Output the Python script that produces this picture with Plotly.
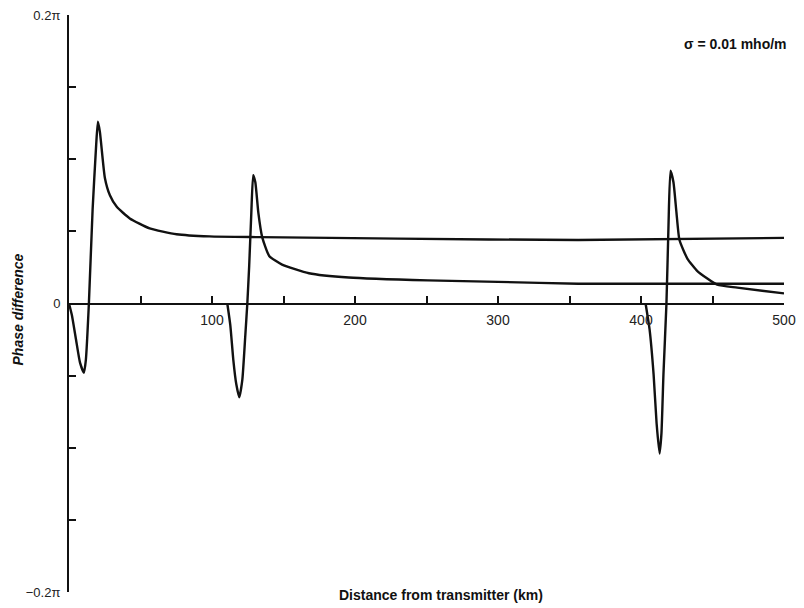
import plotly.graph_objects as go

# Phase difference (in units of pi) versus distance from transmitter (km)
dist_a = [0, 2, 4.9, 7.7, 10.4, 11.8, 13.9, 16.5, 19.0, 20.2, 21.6, 25.1, 28.6, 33.4,
          42.5, 56.4, 75.2, 98.2, 133, 230, 356, 500]
phase_a = [0, -0.008, -0.025, -0.041, -0.048, -0.039, 0, 0.065, 0.11, 0.126, 0.119,
           0.087, 0.075, 0.067, 0.059, 0.052, 0.048, 0.0465, 0.046, 0.045, 0.044, 0.0455]

dist_b = [110.7, 112.8, 114.9, 117.0, 119.1, 121.2, 123.3, 124.7, 126.0, 127.5, 128.8,
          130.3, 132.4, 135.1, 140, 149, 167.8, 195.7, 251, 300, 356, 500]
phase_b = [0, -0.015, -0.039, -0.056, -0.065, -0.053, -0.022, 0, 0.026, 0.063, 0.089,
           0.084, 0.063, 0.046, 0.033, 0.027, 0.021, 0.018, 0.016, 0.015, 0.0137, 0.0137]

dist_c = [403.2, 406.0, 408.8, 410.9, 413.0, 414.3, 415.7, 417.8, 419.2, 420.6, 422.7,
          424.8, 426.9, 432.5, 439.4, 453.3, 467.3, 500]
phase_c = [0, -0.018, -0.049, -0.083, -0.104, -0.09, -0.049, 0, 0.053, 0.092, 0.084,
           0.063, 0.044, 0.031, 0.0225, 0.013, 0.011, 0.007]

x_tick_vals = [50, 100, 150, 200, 250, 300, 350, 400, 450, 500]
x_tick_text = ["", "100", "", "200", "", "300", "", "400", "", "500"]
y_tick_vals = [-0.2, -0.15, -0.1, -0.05, 0, 0.05, 0.1, 0.15, 0.2]
y_tick_text = ["\u22120.2\u03c0", "", "", "", "0", "", "", "", "0.2\u03c0"]

fig = go.Figure()
for xs, ys in [(dist_a, phase_a), (dist_b, phase_b), (dist_c, phase_c)]:
    fig.add_trace(go.Scatter(
        x=xs, y=ys, mode="lines",
        line=dict(color="#111111", width=2.4, shape="spline", smoothing=0.5),
        showlegend=False, hoverinfo="skip",
    ))

fig.update_layout(
    width=804, height=608,
    margin=dict(l=69, r=17, t=15, b=8),
    paper_bgcolor="white", plot_bgcolor="white",
    font=dict(family="Liberation Sans, Arial, sans-serif", color="#111111", size=14),
    xaxis=dict(
        range=[0, 500], anchor="free", position=0.5,
        showline=True, linecolor="#111111", linewidth=2,
        showgrid=False, zeroline=False,
        ticks="inside", ticklen=7, tickwidth=1.5, tickcolor="#111111",
        tickvals=x_tick_vals, ticktext=x_tick_text,
        tickfont=dict(size=14, color="#222222"),
        ticklabelstandoff=4,
    ),
    yaxis=dict(
        range=[-0.2, 0.2],
        showline=True, linecolor="#111111", linewidth=2,
        showgrid=False, zeroline=False,
        ticks="inside", ticklen=7, tickwidth=1.5, tickcolor="#111111",
        tickvals=y_tick_vals, ticktext=y_tick_text,
        tickfont=dict(size=13, color="#222222"),
        ticklabelstandoff=4,
    ),
    annotations=[
        dict(text="<b>\u03c3 = 0.01 mho/m</b>", xref="paper", yref="paper",
             x=0.932, y=0.95, showarrow=False, xanchor="center", yanchor="middle",
             font=dict(size=14, color="#111111")),
        dict(text="<b>Distance from transmitter (km)</b>", xref="paper", yref="paper",
             x=0.52, y=-0.005, showarrow=False, xanchor="center", yanchor="middle",
             font=dict(size=14, color="#111111")),
        dict(text="<b><i>Phase difference</i></b>", xref="paper", yref="paper",
             x=-0.071, y=0.49, showarrow=False, textangle=-90,
             xanchor="center", yanchor="middle",
             font=dict(size=14, color="#111111")),
    ],
)

fig.write_html("out.html")
